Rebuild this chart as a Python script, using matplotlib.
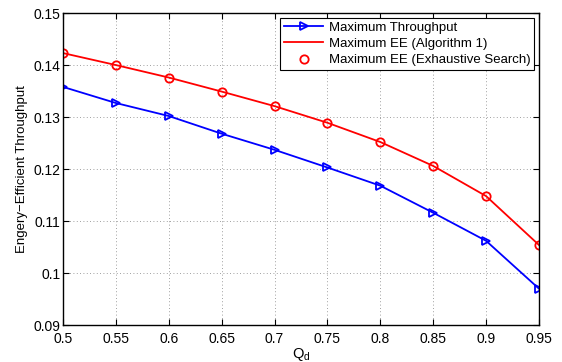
import matplotlib
matplotlib.use("Agg")
import matplotlib.pyplot as plt

plt.rcParams['font.family'] = ['Liberation Sans', 'DejaVu Sans']

qd = [0.5, 0.55, 0.6, 0.65, 0.7, 0.75, 0.8, 0.85, 0.9, 0.95]
max_throughput = [0.1358, 0.1327, 0.1302, 0.1268, 0.1237, 0.1203, 0.1168, 0.1116, 0.1062, 0.0970]
max_ee_alg = [0.1423, 0.1400, 0.1376, 0.1349, 0.1321, 0.1289, 0.1252, 0.1206, 0.1148, 0.1054]
max_ee_exh = [0.1423, 0.1400, 0.1376, 0.1349, 0.1321, 0.1289, 0.1252, 0.1206, 0.1148, 0.1054]
xticks = [0.5, 0.55, 0.6, 0.65, 0.7, 0.75, 0.8, 0.85, 0.9, 0.95]
xticklabels = ['0.5', '0.55', '0.6', '0.65', '0.7', '0.75', '0.8', '0.85', '0.9', '0.95']
yticks = [0.09, 0.1, 0.11, 0.12, 0.13, 0.14, 0.15]
yticklabels = ['0.09', '0.1', '0.11', '0.12', '0.13', '0.14', '0.15']

fig = plt.figure(figsize=(5.62, 3.62), dpi=100)
ax = fig.add_axes([0.112, 0.102, 0.847, 0.862])

ax.plot(qd, max_throughput, color='#0000ff', lw=1.3, marker='>', ms=6,
        mfc='none', mew=1.3, label='Maximum Throughput')
ax.plot(qd, max_ee_alg, color='#ff0000', lw=1.3, label='Maximum EE (Algorithm 1)')
ax.plot(qd, max_ee_exh, ls='none', marker='o', ms=6, mfc='none', mec='#ff0000',
        mew=1.3, label='Maximum EE (Exhaustive Search)')

ax.set_xlim(0.5, 0.95)
ax.set_ylim(0.09, 0.15)
ax.set_xticks(xticks)
ax.set_xticklabels(xticklabels)
ax.set_yticks(yticks)
ax.set_yticklabels(yticklabels)
ax.tick_params(direction='in', length=4, width=0.8, labelsize=10, top=True, right=True)
ax.tick_params(axis='x', pad=5)
ax.tick_params(axis='y', pad=2)
ax.grid(True, ls=(0, (1, 3)), color='#808080', lw=0.6)
for s in ax.spines.values():
    s.set_linewidth(1.0)

ax.set_xlabel('Q$_\\mathregular{d}$', fontsize=10.5, labelpad=0)
ax.set_ylabel('Engery\u2212Efficient Throughput', fontsize=9.5, labelpad=4)

leg = ax.legend(loc='upper right', fontsize=9.5, frameon=True, fancybox=False,
                edgecolor='black', framealpha=1, borderpad=0.3, labelspacing=0.3,
                handlelength=3.0, handletextpad=0.4, borderaxespad=0.35)
leg.get_frame().set_linewidth(0.8)

fig.savefig('out.png', dpi=100)
